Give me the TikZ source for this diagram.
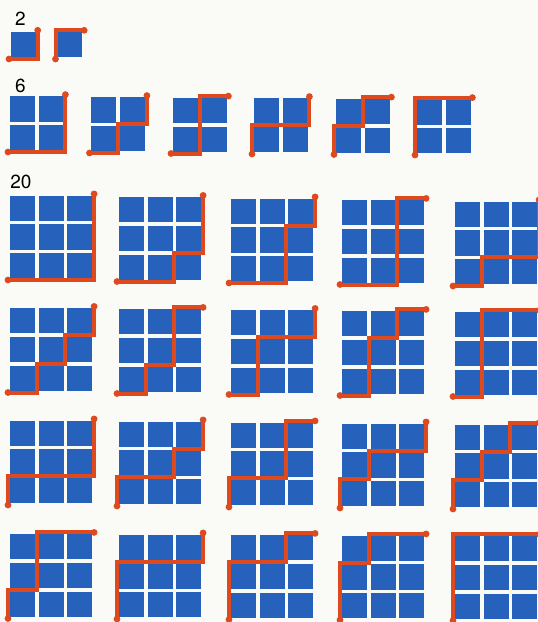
\documentclass[tikz,border=0pt]{standalone}
\usepackage{fontspec}
\setmainfont{TeX Gyre Heros}
\definecolor{bg}{RGB}{250,250,246}
\definecolor{cellblue}{RGB}{38,98,188}
\definecolor{pathred}{RGB}{222,74,30}
\newcommand{\cellsz}{28.7}
\newcommand{\gapsz}{1.8}
% #1 x0, #2 y bottom, #3 n, #4 moves (1 = right, 0 = up)
\newcommand{\latgrid}[4]{%
  \foreach \i in {1,...,#3}{%
    \foreach \j in {1,...,#3}{%
      \fill[cellblue] ({#1+(\i-1)*\cellsz+\gapsz},{#2-(\j-1)*\cellsz-\gapsz})
        rectangle ({#1+\i*\cellsz-\gapsz},{#2-\j*\cellsz+\gapsz});
    }%
  }%
  \draw[latpath] (#1,#2) \foreach \m in {#4}{ -- ++({\m*\cellsz},{(\m-1)*\cellsz}) };
  \fill[pathred] (#1,#2) circle (3.4);
  \fill[pathred] ({#1+#3*\cellsz},{#2-#3*\cellsz}) circle (3.4);
}
\tikzset{
  latpath/.style={draw=pathred, line width=4, line join=miter},
  countlabel/.style={inner sep=0pt, font=\fontsize{19}{19}\selectfont, text=black}
}
\begin{document}
\begin{tikzpicture}[x=1pt,y=-1pt]
\fill[bg] (0,0) rectangle (538,622);
\useasboundingbox (0,0) rectangle (538,622);

% n = 1
\node[countlabel] (l2) at (20.5,18.5) {2};
\latgrid{9}{59}{1}{1,0}
\latgrid{55.5}{59}{1}{0,1}

% n = 2
\node[countlabel] (l6) at (20.5,86) {6};
\latgrid{8}{152}{2}{1,1,0,0}
\latgrid{89.5}{153}{2}{1,0,1,0}
\latgrid{171}{153.5}{2}{1,0,0,1}
\latgrid{252}{154}{2}{0,1,1,0}
\latgrid{334}{154.5}{2}{0,1,0,1}
\latgrid{415}{155}{2}{0,0,1,1}

% n = 3
\node[countlabel] (l20) at (21,182) {20};
% row 1
\latgrid{8}{280}{3}{1,1,1,0,0,0}
\latgrid{117}{281.5}{3}{1,1,0,1,0,0}
\latgrid{229}{283}{3}{1,1,0,0,1,0}
\latgrid{340}{284.5}{3}{1,1,0,0,0,1}
\latgrid{453}{286}{3}{1,0,1,1,0,0}
% row 2
\latgrid{8}{392.5}{3}{1,0,1,0,1,0}
\latgrid{117}{393.5}{3}{1,0,1,0,0,1}
\latgrid{229}{394.5}{3}{1,0,0,1,1,0}
\latgrid{340}{395.5}{3}{1,0,0,1,0,1}
\latgrid{453}{396.5}{3}{1,0,0,0,1,1}
% row 3
\latgrid{8}{505}{3}{0,1,1,1,0,0}
\latgrid{117}{506}{3}{0,1,1,0,1,0}
\latgrid{229}{507}{3}{0,1,1,0,0,1}
\latgrid{340}{508}{3}{0,1,0,1,1,0}
\latgrid{453}{509}{3}{0,1,0,1,0,1}
% row 4
\latgrid{8}{618.5}{3}{0,1,0,0,1,1}
\latgrid{117}{619}{3}{0,0,1,1,1,0}
\latgrid{229}{619.5}{3}{0,0,1,1,0,1}
\latgrid{340}{620}{3}{0,0,1,0,1,1}
\latgrid{453}{620.5}{3}{0,0,0,1,1,1}
\end{tikzpicture}
\end{document}
